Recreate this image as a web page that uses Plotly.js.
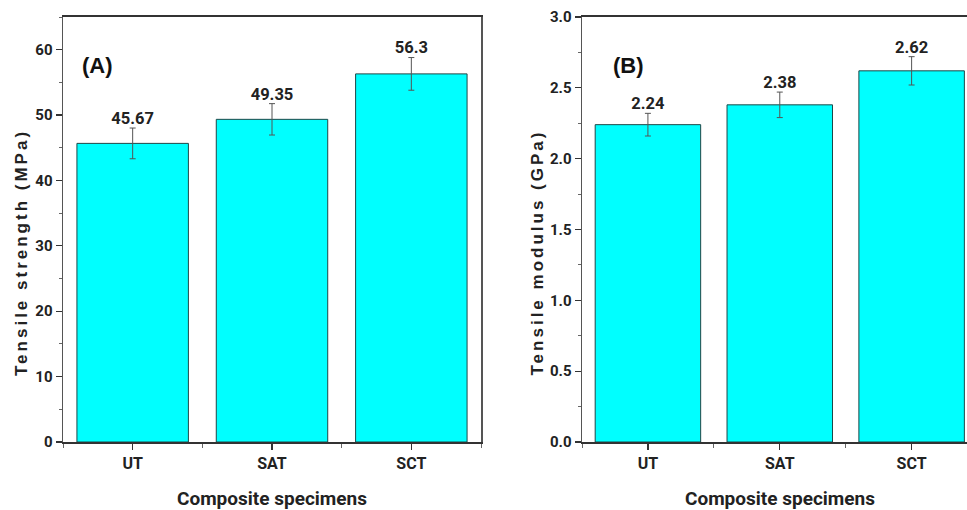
<!DOCTYPE html>
<html>
<head>
<meta charset="utf-8">
<script src="https://cdn.plot.ly/plotly-3.0.1.min.js"></script>
<style>
  html, body { margin: 0; padding: 0; background: #fff; }
  #chart { width: 967px; height: 510px; }
  g.annotation[data-index="0"] text, g.annotation[data-index="1"] text { letter-spacing: 3px; }
</style>
</head>
<body>
<div id="chart"></div>
<script>
// ---- data ----
const categories = ["UT", "SAT", "SCT"];
const strengthValues = [45.67, 49.35, 56.3];
const strengthErrors = [2.35, 2.4, 2.5];
const modulusValues = [2.24, 2.38, 2.62];
const modulusErrors = [0.08, 0.09, 0.10];
const strengthTicks = [0, 10, 20, 30, 40, 50, 60];
const modulusTicks = [0.0, 0.5, 1.0, 1.5, 2.0, 2.5, 3.0];
const modulusTickText = ["0.0", "0.5", "1.0", "1.5", "2.0", "2.5", "3.0"];

const idx = categories.map((c, i) => i);
const narrow = "'Liberation Sans Narrow', Roboto, sans-serif";
const wide = "'Liberation Sans', Arial, sans-serif";
const axisColor = "#333";

function nfont(size, color) {
  return { family: narrow, size: size, color: color || "#222", weight: "bold" };
}

function barTrace(vals, errs, xa, ya) {
  return {
    type: "bar", x: idx, y: vals, xaxis: xa, yaxis: ya, width: 0.8,
    marker: { color: "#00FFFF", line: { color: "#1d4747", width: 1 } },
    error_y: { type: "data", array: errs, visible: true, color: "#555", thickness: 1, width: 3 },
    hoverinfo: "skip", showlegend: false
  };
}
function labelTrace(vals, errs, xa, ya, fmt) {
  return {
    type: "scatter", mode: "text", x: idx, y: vals.map((v, i) => v + errs[i]),
    text: vals.map(fmt), textposition: "top center", xaxis: xa, yaxis: ya,
    textfont: nfont(16.5),
    cliponaxis: false, hoverinfo: "skip", showlegend: false
  };
}

const data = [
  barTrace(strengthValues, strengthErrors, "x", "y"),
  labelTrace(strengthValues, strengthErrors, "x", "y", v => String(v)),
  barTrace(modulusValues, modulusErrors, "x2", "y2"),
  labelTrace(modulusValues, modulusErrors, "x2", "y2", v => v.toFixed(2))
];

function xAxis(domain, range, anchor) {
  return {
    domain: domain, range: range, anchor: anchor, type: "linear",
    tickmode: "array", tickvals: idx, ticktext: categories,
    ticks: "outside", ticklen: 6, tickwidth: 1.2, tickcolor: axisColor,
    minor: { tickmode: "linear", tick0: 0.5, dtick: 1, ticks: "outside", ticklen: 4, tickwidth: 1, tickcolor: "#666" },
    showline: true, linecolor: axisColor, linewidth: 2, mirror: true,
    showgrid: false, zeroline: false, tickfont: nfont(16), fixedrange: true
  };
}
function yAxis(domain, range, anchor, tickvals, ticktext, minorDtick, mirror) {
  return {
    domain: domain, range: range, anchor: anchor,
    tickmode: "array", tickvals: tickvals, ticktext: ticktext,
    ticks: "outside", ticklen: 6, tickwidth: 1.2, tickcolor: axisColor,
    minor: { tickmode: "linear", tick0: 0, dtick: minorDtick, ticks: "outside", ticklen: 3, tickwidth: 1, tickcolor: "#666" },
    showline: true, linecolor: "#555", linewidth: 1.5, mirror: mirror,
    showgrid: false, zeroline: false, tickfont: nfont(15), fixedrange: true
  };
}

function ann(text, xref, x, y, font, angle) {
  return { text: text, xref: xref, yref: "paper", x: x, y: y, xanchor: "center", yanchor: "middle",
           textangle: angle || 0, showarrow: false, font: font };
}

const yDom = [68 / 510, 493 / 510];
const titleFont = { family: wide, size: 17, color: "#222", weight: "bold" };
const panelFont = { family: wide, size: 22, color: "#111", weight: "bold" };
const layout = {
  width: 967, height: 510,
  margin: { l: 0, r: 0, t: 0, b: 0 },
  paper_bgcolor: "#fff", plot_bgcolor: "#fff",
  showlegend: false,
  xaxis: xAxis([63 / 967, 481 / 967], [-0.5, 2.5], "y"),
  yaxis: yAxis(yDom, [0, 65], "x", strengthTicks, strengthTicks.map(String), 5, true),
  xaxis2: xAxis([582 / 967, 1], [-0.5, 2.42], "y2"),
  yaxis2: yAxis(yDom, [0, 3], "x2", modulusTicks, modulusTickText, 0.25, false),
  annotations: [
    ann("Tensile strength (MPa)", "paper", 21 / 967, 1 - 253 / 510, titleFont, -90),
    ann("Tensile modulus (GPa)", "paper", 537 / 967, 1 - 253 / 510, titleFont, -90),
    ann("Composite specimens", "x", 1, 1 - 498 / 510, nfont(19)),
    ann("Composite specimens", "x2", 1, 1 - 498 / 510, nfont(19)),
    ann("(A)", "paper", 97 / 967, 1 - 65 / 510, panelFont),
    ann("(B)", "paper", 628 / 967, 1 - 65 / 510, panelFont)
  ]
};

Plotly.newPlot("chart", data, layout, { displayModeBar: false, staticPlot: true });
</script>
</body>
</html>
